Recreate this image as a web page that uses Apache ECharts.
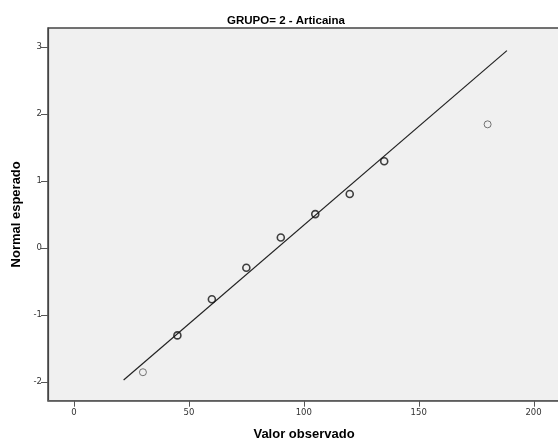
<!DOCTYPE html>
<html>
<head>
<meta charset="utf-8">
<script src="https://cdn.jsdelivr.net/npm/echarts@6/dist/echarts.min.js"></script>
<style>html,body{margin:0;padding:0;background:#fff}#c{width:558px;height:438px}</style>
</head>
<body>
<div id="c"></div>
<script>
var titleText = 'GRUPO= 2 - Articaina';
var xName = 'Valor observado';
var yName = 'Normal esperado';
var observed = [30, 45, 60, 75, 90, 105, 120, 135, 180];
var expected = [-1.85, -1.30, -0.76, -0.29, 0.16, 0.51, 0.81, 1.30, 1.85];
var tied = [false, true, true, true, true, true, true, true, false];
var lineX = [21.6, 188.4];
var lineY = [-1.966, 2.95];
var xTicks = [0, 50, 100, 150, 200];
var yTicks = [-2, -1, 0, 1, 2, 3];

var chart = echarts.init(document.getElementById('c'), null, {renderer: 'canvas'});
var font = 'Liberation Sans, Arial, sans-serif';
var xMin = -11.31, xMax = 211.5;
var yMin = -2.275, yMax = 3.288;
chart.setOption({
  animation: false,
  title: {
    text: titleText, left: 281, top: 10, textAlign: 'center',
    textStyle: {fontFamily: font, fontSize: 11.5, fontWeight: 'bold', color: '#000'}
  },
  grid: {
    left: 48, top: 28, right: -2, bottom: 37.3,
    outerBoundsMode: 'none', containLabel: false,
    show: true, backgroundColor: '#f0f0f0', borderColor: '#444', borderWidth: 1.5
  },
  xAxis: {
    type: 'value', min: xMin, max: xMax,
    name: xName, nameLocation: 'middle', nameGap: 27,
    nameTextStyle: {fontFamily: font, fontSize: 13, fontWeight: 'bold', color: '#000'},
    axisLine: {show: true, onZero: false, lineStyle: {color: '#666', width: 1.5}},
    axisTick: {show: false},
    axisLabel: {customValues: xTicks, fontFamily: 'DejaVu Sans', fontSize: 8.5, color: '#333', margin: 8},
    splitLine: {show: false}
  },
  yAxis: {
    type: 'value', min: yMin, max: yMax,
    name: yName, nameLocation: 'middle', nameGap: 23, nameRotate: 90,
    nameTextStyle: {fontFamily: font, fontSize: 13, fontWeight: 'bold', color: '#000'},
    axisLine: {show: true, onZero: false, lineStyle: {color: '#444', width: 1.2}},
    axisTick: {show: true, length: 7, customValues: yTicks, lineStyle: {color: '#555', width: 1}},
    axisLabel: {customValues: yTicks, fontFamily: 'DejaVu Sans', fontSize: 8.5, color: '#333', margin: 6},
    splitLine: {show: false}
  },
  series: [
    {
      type: 'line',
      data: lineX.map(function (x, i) { return [x, lineY[i]]; }),
      symbol: 'none',
      lineStyle: {color: '#222', width: 1.2},
      z: 2
    },
    {
      type: 'scatter',
      symbol: 'circle',
      symbolSize: 7,
      data: observed.map(function (x, i) {
        return {
          value: [x, expected[i]],
          itemStyle: tied[i]
            ? {color: 'rgba(0,0,0,0)', borderColor: '#111', borderWidth: 1.6}
            : {color: 'rgba(0,0,0,0)', borderColor: '#555', borderWidth: 1}
        };
      }),
      z: 3
    }
  ]
});

// x-axis tick marks placed through the chart's own x scale
var tickGraphics = xTicks.map(function (v) {
  var p = chart.convertToPixel({gridIndex: 0}, [v, yMin]);
  var x = Math.round(p[0]) + 0.5;
  return {
    type: 'line', z: 100, silent: true,
    shape: {x1: x, y1: p[1], x2: x, y2: p[1] + 6},
    style: {stroke: '#555', lineWidth: 1}
  };
});
chart.setOption({graphic: tickGraphics});
</script>
</body>
</html>
